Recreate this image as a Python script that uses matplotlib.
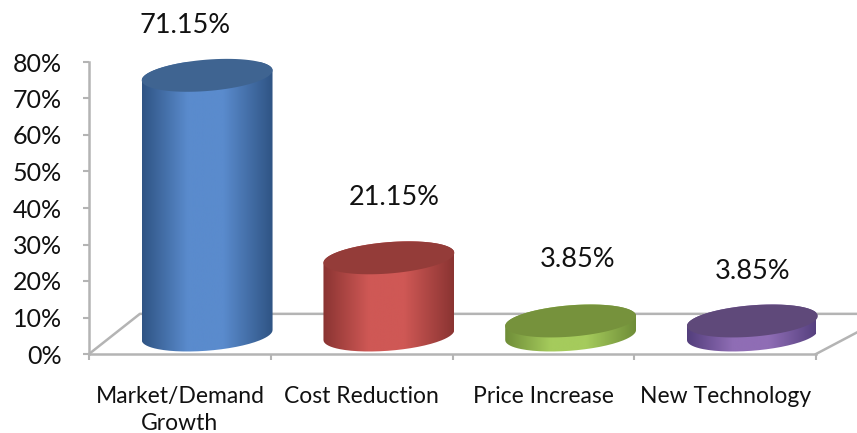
import numpy as np
import matplotlib
matplotlib.use("Agg")
import matplotlib.pyplot as plt
from matplotlib.colors import LinearSegmentedColormap
from matplotlib.patches import PathPatch, Polygon
from matplotlib.path import Path

categories = ["Market/Demand\nGrowth", "Cost Reduction", "Price Increase", "New Technology"]
values = [71.15, 21.15, 3.85, 3.85]
value_labels = ["71.15%", "21.15%", "3.85%", "3.85%"]
y_ticks = [0, 10, 20, 30, 40, 50, 60, 70, 80]

edge_colors = ["#2f5484", "#8a3432", "#6f8d38", "#533e7c"]
light_colors = ["#5a8bcd", "#cf5855", "#a5cb5c", "#8f6db5"]
top_colors = ["#3f6491", "#943c39", "#76923c", "#5f497a"]

# where the value labels sit, x in category units, y in percent
label_x = [0.53, 1.68, 2.69, 3.65]
label_y = [90.1, 43.0, 25.8, 22.7]

GRAY = "#b4b4b4"
BAR_OFFSET = 0.65      # depth shift of the bars inside the floor
BAR_HALF = 0.36
BASE_Y = 5.2           # centre of the bar base above the front floor edge
TILT = 1.37
MINOR = 4.3


def ellipse_points(cx, cy, start, stop):
    t = np.linspace(start, stop, 80)
    xs = cx + BAR_HALF * np.cos(t)
    ys = cy + TILT * np.cos(t) + MINOR * np.sin(t)
    return np.column_stack([xs, ys])


def draw_cylinder(ax, pos, value, edge, light, top):
    cx = pos + BAR_OFFSET
    bottom_y = BASE_Y
    top_y = BASE_Y + value
    lower = ellipse_points(cx, bottom_y, np.pi, 2 * np.pi)
    upper = ellipse_points(cx, top_y, 0, np.pi)
    side = np.vstack([lower, upper, lower[:1]])

    cmap = LinearSegmentedColormap.from_list(
        "side", [(0, edge), (0.35, light), (0.62, light), (1, edge)])
    shade = np.linspace(0, 1, 256).reshape(1, -1)
    im = ax.imshow(shade, cmap=cmap, aspect="auto", zorder=3,
                   extent=[cx - BAR_HALF, cx + BAR_HALF, bottom_y - 8, top_y + 8])
    clip = PathPatch(Path(side), transform=ax.transData, facecolor="none", edgecolor="none")
    ax.add_patch(clip)
    im.set_clip_path(clip)

    cap = ellipse_points(cx, top_y, 0, 2 * np.pi)
    ax.add_patch(Polygon(cap, closed=True, facecolor=top, edgecolor="none", zorder=4, clip_on=False))


fig = plt.figure(figsize=(8.57, 4.33), dpi=100)
ax = fig.add_axes([89 / 857, (433 - 354) / 433, (816 - 89) / 857, 292 / 433])

# floor of the 3d box
ax.plot([0, 0.28, 4.4], [0, 11, 11], color=GRAY, lw=1.8, clip_on=False, zorder=1)
ax.plot([4, 4.4], [0, 10.5], color=GRAY, lw=1.8, clip_on=False, zorder=1)

for i in range(len(values)):
    draw_cylinder(ax, i, values[i], edge_colors[i], light_colors[i], top_colors[i])
    ax.text(label_x[i], label_y[i], value_labels[i], ha="center", va="center",
            fontsize=19.5, family="Lato", color="#111111", clip_on=False)

ax.set_xlim(0, 4)
ax.set_ylim(0, 80)

for side in ["top", "right"]:
    ax.spines[side].set_visible(False)
for side in ["left", "bottom"]:
    ax.spines[side].set_color(GRAY)
    ax.spines[side].set_linewidth(1.8)

ax.set_yticks(y_ticks)
ax.set_yticklabels(["{0}%".format(v) for v in y_ticks], fontsize=18, family="Lato", color="#111111")
ax.set_xticks([0, 1, 2, 3, 4])
ax.set_xticklabels([])
ax.set_xticks([0.5, 1.5, 2.5, 3.5], minor=True)
ax.set_xticklabels(categories, minor=True, fontsize=16.5, family="Lato", color="#111111", linespacing=1.35)
ax.tick_params(axis="both", which="major", color=GRAY, width=1.5, length=4.5)
ax.tick_params(axis="y", pad=15)
ax.tick_params(axis="x", which="minor", length=0, pad=23)

fig.savefig("out.png", dpi=100)
